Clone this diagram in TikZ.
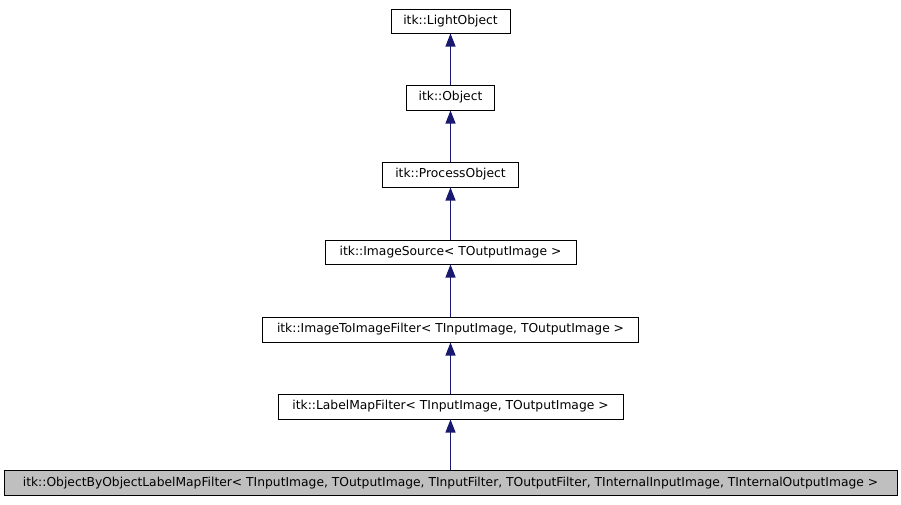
\documentclass[tikz,border=0pt]{standalone}
\usepackage{fontspec}
\setmainfont{DejaVu Sans}
\usetikzlibrary{arrows.meta}
\definecolor{edgeblue}{HTML}{191970}
\definecolor{leafgray}{HTML}{BFBFBF}
\begin{document}
\begin{tikzpicture}[x=1pt,y=-1pt,
  cls/.style={draw=black,line width=1pt,fill=white,inner sep=0pt,anchor=center,
    font=\fontsize{12.3}{14}\selectfont,text height=9pt,text depth=2.5pt},
  inh/.style={draw=edgeblue,line width=1.1pt,-{Triangle[width=10pt,length=13pt]},color=edgeblue}]
\useasboundingbox (0,0) rectangle (901,504);
\node[cls,minimum width=119pt,minimum height=24pt] (light) at (450.5,21) {itk::LightObject};
\node[cls,minimum width=88pt,minimum height=25pt] (obj) at (450.5,97.5) {itk::Object};
\node[cls,minimum width=136pt,minimum height=25pt] (proc) at (450.5,174.5) {itk::ProcessObject};
\node[cls,minimum width=251pt,minimum height=24pt] (src) at (450.5,252) {itk::ImageSource< TOutputImage >};
\node[cls,minimum width=376pt,minimum height=25pt] (i2i) at (450.5,329.5) {itk::ImageToImageFilter< TInputImage, TOutputImage >};
\node[cls,minimum width=345pt,minimum height=25pt] (lmf) at (450.5,406.5) {itk::LabelMapFilter< TInputImage, TOutputImage >};
\node[cls,fill=leafgray,minimum width=893pt,minimum height=25pt] (oob) at (450.5,483) {itk::ObjectByObjectLabelMapFilter< TInputImage, TOutputImage, TInputFilter, TOutputFilter, TInternalInputImage, TInternalOutputImage >};
\draw[inh] (obj.north) -- (light.south);
\draw[inh] (proc.north) -- (obj.south);
\draw[inh] (src.north) -- (proc.south);
\draw[inh] (i2i.north) -- (src.south);
\draw[inh] (lmf.north) -- (i2i.south);
\draw[inh] (oob.north) -- (lmf.south);
\end{tikzpicture}
\end{document}
